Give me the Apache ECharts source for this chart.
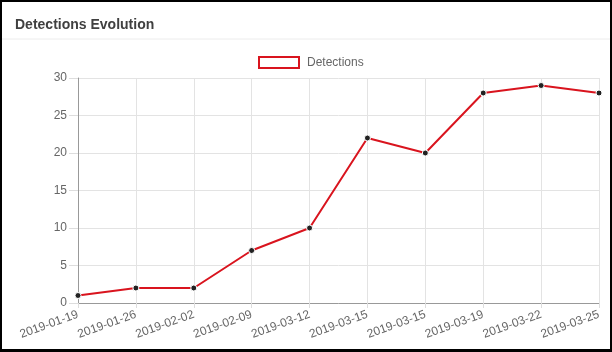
<!DOCTYPE html>
<html><head><meta charset="utf-8">
<script src="https://cdn.jsdelivr.net/npm/echarts@6/dist/echarts.min.js"></script>
<style>
html,body{margin:0;padding:0;background:#000;}
#wrap{position:absolute;left:0;top:0;width:612px;height:352px;box-sizing:border-box;border-left:2px solid #000;border-right:2px solid #000;border-top:2px solid #000;border-bottom:3px solid #000;background:#fff;}
#c{width:100%;height:100%;}
</style></head>
<body><div id="wrap"><div id="c"></div></div>
<script>
var categories = ['2019-01-19','2019-01-26','2019-02-02','2019-02-09','2019-03-12','2019-03-15','2019-03-15','2019-03-19','2019-03-22','2019-03-25'];
var detections = [1, 2, 2, 7, 10, 22, 20, 28, 29, 28];
var seriesName = 'Detections';
var titleText = 'Detections Evolution';

var chart = echarts.init(document.getElementById('c'), null, {renderer:'canvas'});
var font = '"Liberation Sans", Arial, Helvetica, sans-serif';
chart.setOption({
  animation:false,
  textStyle:{fontFamily:font},
  title:{text:titleText,left:8,top:11,textStyle:{fontFamily:font,fontSize:14,fontWeight:'bold',color:'#404040'}},
  graphic:[{type:'line',shape:{x1:0,y1:37,x2:608,y2:37},style:{stroke:'#ececec',lineWidth:1}}],
  legend:{top:49,left:251,itemWidth:40,itemHeight:11,itemGap:8,icon:'rect',
    textStyle:{fontFamily:font,fontSize:12,color:'#666',padding:[0,0,0,3]},
    data:[{name:seriesName,itemStyle:{color:'#fff',borderColor:'#d9141e',borderWidth:2}}]},
  grid:{left:76,right:11,top:76,bottom:46},
  xAxis:{type:'category',data:categories,boundaryGap:false,
    axisLine:{lineStyle:{color:'#999',width:1}},
    axisTick:{show:true,alignWithLabel:true,length:5,lineStyle:{color:'#ddd'}},
    splitLine:{show:true,lineStyle:{color:'#e3e3e3'}},
    axisLabel:{rotate:20,color:'#666',fontSize:12,margin:11,interval:0,fontFamily:font}},
  yAxis:{type:'value',min:0,max:30,interval:5,
    axisLine:{show:true,lineStyle:{color:'#999'}},
    axisTick:{show:true,length:9,lineStyle:{color:'#ddd'}},
    splitLine:{show:true,lineStyle:{color:'#e3e3e3'}},
    axisLabel:{color:'#666',fontSize:12,margin:11,fontFamily:font}},
  series:[{name:seriesName,type:'line',data:detections,
    lineStyle:{color:'#d9141e',width:2},
    itemStyle:{color:'#222',borderColor:'#fff',borderWidth:1},
    symbol:'circle',symbolSize:6,showSymbol:true}]
});
</script></body></html>
